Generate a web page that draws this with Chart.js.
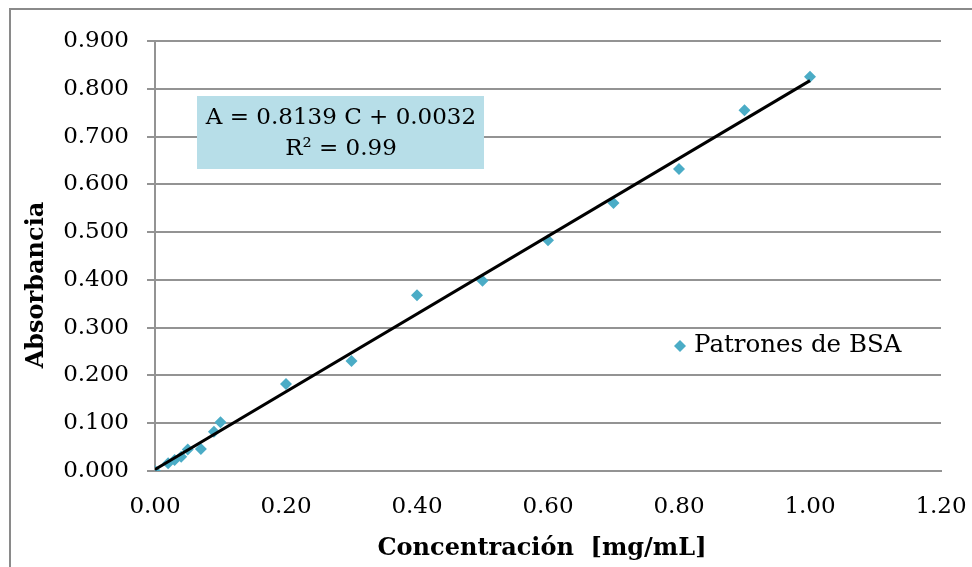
<!DOCTYPE html>
<html>
<head>
<meta charset="utf-8">
<style>
  html, body { margin: 0; padding: 0; background: #ffffff; }
  #wrap { width: 972px; height: 567px; position: relative; }
</style>
<script src="https://cdn.jsdelivr.net/npm/chart.js@4.4.0/dist/chart.umd.min.js"></script>
</head>
<body>
<div id="wrap"><canvas id="c" width="972" height="567"></canvas></div>
<script>
// ---- Data ----
const concentrations = [0, 0.02, 0.03, 0.04, 0.05, 0.07, 0.09, 0.10, 0.20, 0.30, 0.40, 0.50, 0.60, 0.70, 0.80, 0.90, 1.00];
const absorbances    = [0, 0.016, 0.023, 0.030, 0.045, 0.046, 0.082, 0.102, 0.182, 0.230, 0.368, 0.398, 0.483, 0.561, 0.632, 0.755, 0.825];
const trendSlope = 0.8139;
const trendIntercept = 0.0032;
const trendRange = [0, 1.0];
const seriesName = 'Patrones de BSA';
const equationLines = ['A = 0.8139 C + 0.0032', 'R\u00B2 = 0.99'];
const xTitle = 'Concentraci\u00F3n  [mg/mL]';
const yTitle = 'Absorbancia';

const SERIF = '"DejaVu Serif", "Liberation Serif", serif';
const markerColor = '#4bacc6';
const gridColor = '#939393';

const scatterPts = concentrations.map((c, i) => ({ x: c, y: absorbances[i] }));
const trendPts = trendRange.map(c => ({ x: c, y: trendSlope * c + trendIntercept }));

const decorPlugin = {
  id: 'decor',
  beforeDraw(chart) {
    const ctx = chart.ctx;
    ctx.save();
    ctx.fillStyle = '#ffffff';
    ctx.fillRect(0, 0, chart.width, chart.height);
    ctx.strokeStyle = '#8a8a8a';
    ctx.lineWidth = 2;
    ctx.strokeRect(10, 9, 1100, 1100);
    ctx.restore();
  },
  afterDraw(chart) {
    const ctx = chart.ctx;
    ctx.save();
    // equation box
    ctx.fillStyle = '#b7dee8';
    ctx.fillRect(197, 96, 287, 73);
    ctx.fillStyle = '#000000';
    ctx.font = '23px ' + SERIF;
    ctx.textAlign = 'center';
    ctx.textBaseline = 'middle';
    ctx.fillText(equationLines[0], 341, 118);
    ctx.fillText(equationLines[1], 341, 149);
    // legend
    const lx = 680, ly = 346;
    ctx.fillStyle = markerColor;
    ctx.beginPath();
    ctx.moveTo(lx, ly - 6);
    ctx.lineTo(lx + 6, ly);
    ctx.lineTo(lx, ly + 6);
    ctx.lineTo(lx - 6, ly);
    ctx.closePath();
    ctx.fill();
    ctx.fillStyle = '#000000';
    ctx.textAlign = 'left';
    ctx.font = '24.5px ' + SERIF;
    ctx.fillText(seriesName, 694, ly);
    // axis titles
    ctx.font = 'bold 24px ' + SERIF;
    ctx.textAlign = 'center';
    ctx.fillText(xTitle, 542, 549);
    ctx.translate(37, 285);
    ctx.rotate(-Math.PI / 2);
    ctx.fillText(yTitle, 0, 0);
    ctx.restore();
  }
};

new Chart(document.getElementById('c'), {
  type: 'scatter',
  data: {
    datasets: [
      {
        label: seriesName,
        data: scatterPts,
        pointStyle: 'rectRot',
        pointRadius: 6,
        pointHoverRadius: 6,
        backgroundColor: markerColor,
        borderColor: markerColor,
        borderWidth: 0,
        order: 2
      },
      {
        label: 'Lineal',
        type: 'line',
        data: trendPts,
        borderColor: '#000000',
        borderWidth: 3,
        pointRadius: 0,
        fill: false,
        order: 1
      }
    ]
  },
  plugins: [decorPlugin],
  options: {
    responsive: false,
    animation: false,
    devicePixelRatio: 1,
    layout: { padding: { left: 0, top: 41, right: 31, bottom: 0 } },
    plugins: {
      legend: { display: false },
      tooltip: { enabled: false }
    },
    scales: {
      x: {
        type: 'linear',
        min: 0, max: 1.2,
        afterFit(scale) { scale.height = 96; scale.paddingLeft = 0; scale.paddingRight = 0; },
        ticks: {
          stepSize: 0.2,
          color: '#000000',
          font: { family: SERIF, size: 23 },
          padding: 15,
          maxRotation: 0,
          callback: v => Number(v).toFixed(2)
        },
        grid: { display: false, drawTicks: true, tickLength: 7, color: gridColor },
        border: { display: true, color: gridColor, width: 2 },
        title: { display: false }
      },
      y: {
        type: 'linear',
        min: 0, max: 0.9,
        afterFit(scale) { scale.width = 155; scale.paddingTop = 0; scale.paddingBottom = 0; },
        ticks: {
          stepSize: 0.1,
          color: '#000000',
          font: { family: SERIF, size: 23 },
          padding: 18,
          callback: v => Number(v).toFixed(3)
        },
        grid: { display: true, drawTicks: true, tickLength: 8, color: gridColor, lineWidth: 2 },
        border: { display: true, color: gridColor, width: 2 },
        title: { display: false }
      }
    }
  }
});
</script>
</body>
</html>
